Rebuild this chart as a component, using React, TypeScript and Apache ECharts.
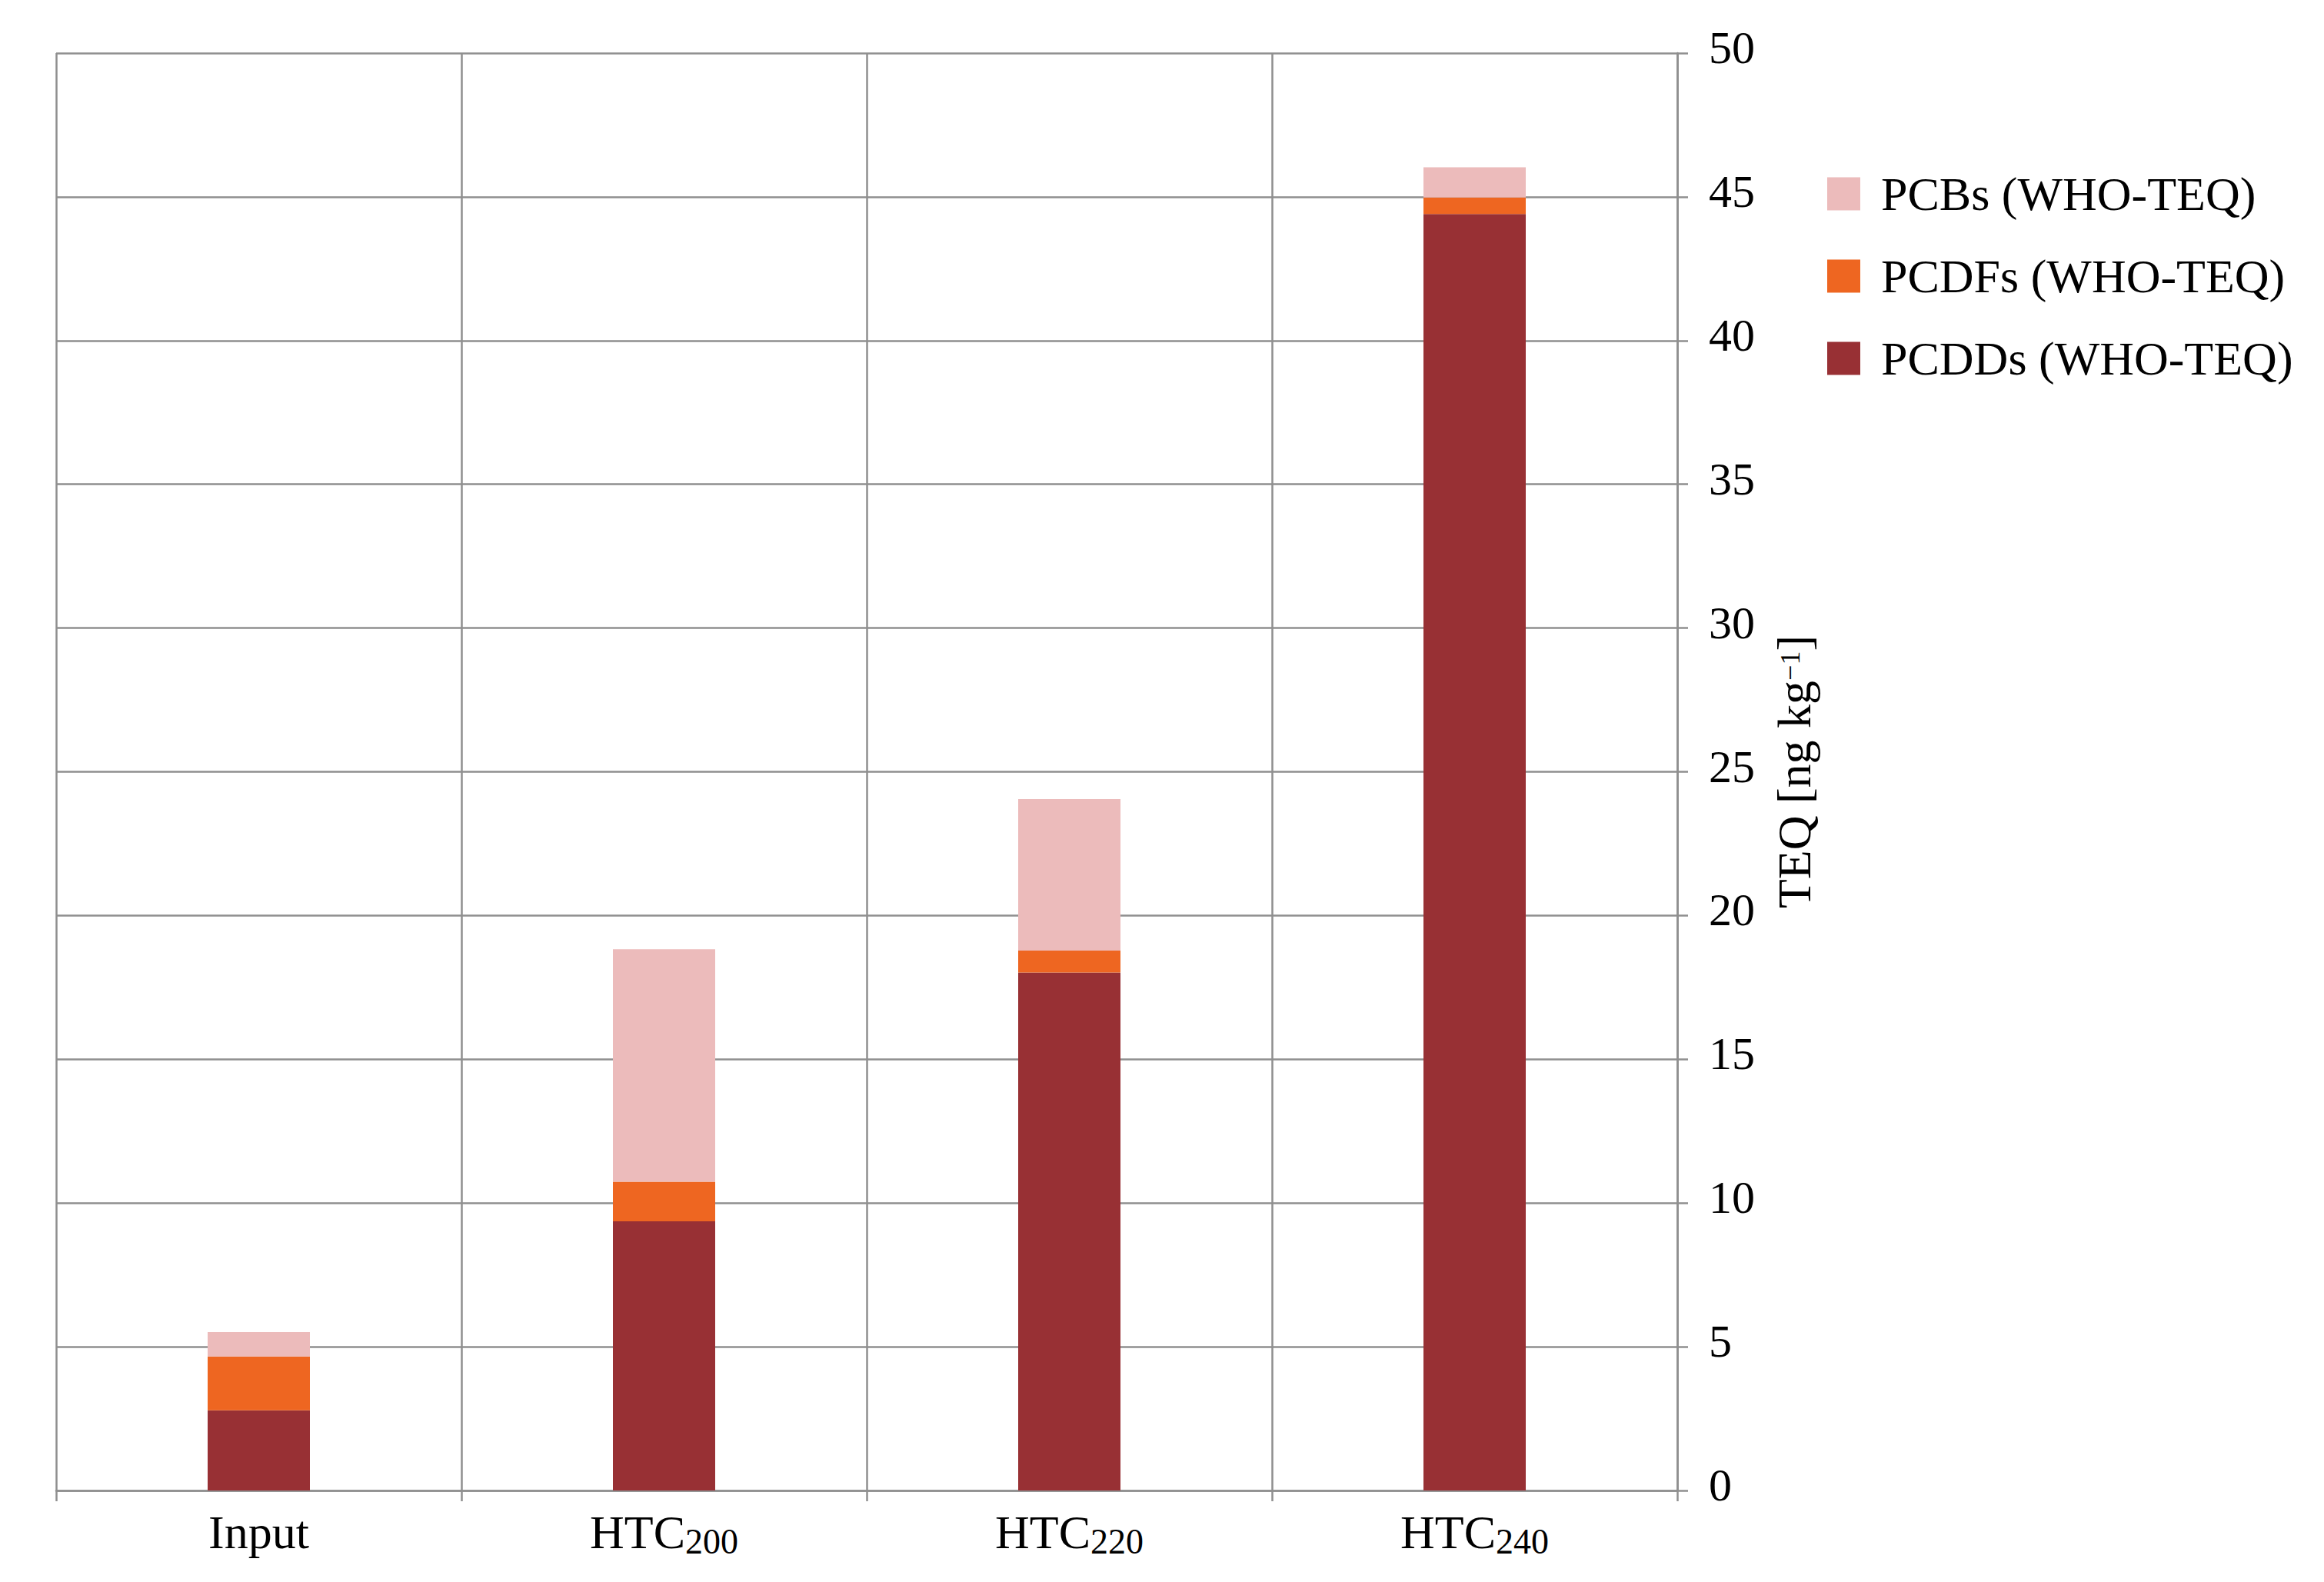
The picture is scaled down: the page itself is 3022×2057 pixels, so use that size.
import React, { useEffect, useRef } from 'react';
import * as echarts from 'echarts';

const categories = ['Input', 'HTC200', 'HTC220', 'HTC240'];
const seriesNames = ['PCDDs (WHO-TEQ)', 'PCDFs (WHO-TEQ)', 'PCBs (WHO-TEQ)'];
const legendOrder = ['PCBs (WHO-TEQ)', 'PCDFs (WHO-TEQ)', 'PCDDs (WHO-TEQ)'];
const pcdds = [2.79, 9.36, 18.02, 44.4];
const pcdfs = [1.87, 1.38, 0.76, 0.58];
const pcbs = [0.85, 8.09, 5.27, 1.05];
const seriesColors = ['#983034', '#EE6621', '#ECBBBB'];
const yMin = 0;
const yMax = 50;
const yInterval = 5;

const FONT = '"Liberation Serif", "Times New Roman", serif';
const GRID_COLOR = '#8f8f8f';

export default function App() {
  const ref = useRef<HTMLDivElement>(null);

  useEffect(() => {
    if (!ref.current) return;
    const chart = echarts.init(ref.current, undefined, { renderer: 'svg' });
    const values = [pcdds, pcdfs, pcbs];
    chart.setOption({
      animation: false,
      backgroundColor: '#ffffff',
      textStyle: { fontFamily: FONT, color: '#000' },
      grid: { left: 73, right: 841, top: 69, bottom: 119, containLabel: false },
      legend: {
        orient: 'vertical',
        left: 2376,
        top: 221,
        padding: 0,
        data: legendOrder,
        icon: 'rect',
        itemWidth: 43,
        itemHeight: 43,
        itemGap: 45,
        selectedMode: false,
        textStyle: {
          fontFamily: FONT,
          fontSize: 62,
          lineHeight: 62,
          color: '#000',
          padding: [0, 0, 0, 22],
        },
      },
      xAxis: {
        type: 'category',
        data: categories,
        boundaryGap: true,
        axisLine: { show: true, lineStyle: { color: GRID_COLOR, width: 2.5 } },
        axisTick: { show: true, length: 14, interval: 0, lineStyle: { color: GRID_COLOR, width: 2.5 } },
        splitLine: { show: true, interval: 0, lineStyle: { color: GRID_COLOR, width: 2.5 } },
        axisLabel: {
          margin: 23,
          interval: 0,
          color: '#000',
          formatter: (v: string) => (v.startsWith('HTC') ? `{m|HTC}{s|${v.slice(3)}}` : `{m|${v}}`),
          rich: {
            m: { fontFamily: FONT, fontSize: 62, lineHeight: 62, verticalAlign: 'top', color: '#000' },
            s: { fontFamily: FONT, fontSize: 46, lineHeight: 66, verticalAlign: 'bottom', color: '#000' },
          },
        },
      },
      yAxis: {
        type: 'value',
        position: 'right',
        min: yMin,
        max: yMax,
        interval: yInterval,
        name: '{m|TEQ [ng kg}{s|−1}{m|]}',
        nameLocation: 'middle',
        nameRotate: 90,
        nameGap: 121,
        nameTextStyle: {
          rich: {
            m: { fontFamily: FONT, fontSize: 62, lineHeight: 62, verticalAlign: 'bottom', color: '#000' },
            s: {
              fontFamily: FONT,
              fontSize: 36,
              lineHeight: 48,
              verticalAlign: 'top',
              padding: [8, 0, 0, 0],
              color: '#000',
            },
          },
        },
        axisLine: { show: true, lineStyle: { color: GRID_COLOR, width: 2.5 } },
        axisTick: { show: true, length: 14, lineStyle: { color: GRID_COLOR, width: 2.5 } },
        splitLine: { show: true, lineStyle: { color: GRID_COLOR, width: 2.5 } },
        axisLabel: {
          margin: 41,
          color: '#000',
          fontFamily: FONT,
          fontSize: 60,
          verticalAlign: 'bottom',
          lineHeight: 14,
        },
      },
      series: seriesNames.map((name, i) => ({
        name,
        type: 'bar',
        stack: 'total',
        barWidth: 133,
        data: values[i],
        itemStyle: { color: seriesColors[i] },
      })),
    });
    return () => chart.dispose();
  }, []);

  return (
    <div
      ref={ref}
      style={{ position: 'absolute', left: 0, top: 0, width: 3022, height: 2057, background: '#fff' }}
    />
  );
}
